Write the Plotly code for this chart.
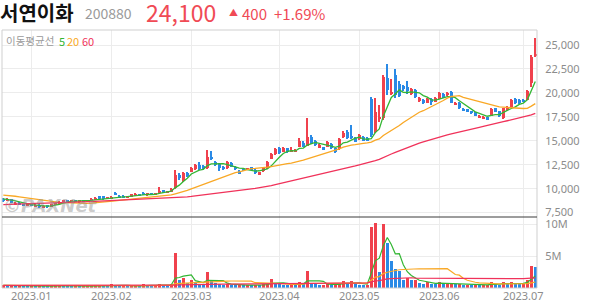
import pandas as pd
import plotly.graph_objects as go
from plotly.subplots import make_subplots

# ---------------- data ----------------
holidays = ["2022-12-30", "2023-01-23", "2023-01-24", "2023-03-01",
            "2023-05-01", "2023-05-05", "2023-05-29", "2023-06-06"]
dates = [d.strftime("%Y-%m-%d") for d in pd.bdate_range("2022-12-21", "2023-07-06")
         if d.strftime("%Y-%m-%d") not in holidays]

open_ = [8950, 8750, 8900, 8350, 8550, 8400, 8200, 8350, 8150, 8300,
         8000, 8200, 8100, 8300, 8450, 8600, 8800, 8650, 8800, 8650,
         8800, 8650, 8750, 8900, 9200, 9200, 8950, 9000, 9550, 9250,
         9250, 9050, 9150, 9250, 9400, 9450, 9300, 9550, 9350, 9650,
         9850, 9600, 9700, 10050, 11400, 10750, 11600, 11750, 12050, 12450,
         12400, 12150, 13350, 12750, 12550, 12300, 12150, 12650, 12300, 11850,
         12050, 11950, 12250, 11950, 11450, 11800, 12150, 13100, 13600, 14200,
         13850, 14200, 13850, 13900, 14400, 14800, 14500, 15350, 15000, 14250,
         14300, 14350, 14650, 14200, 14150, 15350, 15950, 15500, 15250, 15200,
         15350, 15250, 19400, 15900, 17300, 17400, 21600, 19900, 21900, 20900,
         20700, 20600, 19900, 20300, 19200, 19300, 18950, 19400, 19050, 19400,
         19850, 19750, 20050, 18750, 18950, 18350, 18300, 18100, 17950, 17450,
         17350, 17450, 17600, 18400, 18100, 17350, 18200, 18550, 19400, 19300,
         19300, 19300, 21000, 23800]
high = [9000, 9000, 8950, 8600, 8600, 8450, 8400, 8400, 8350, 8350,
        8250, 8250, 8400, 8550, 8700, 8850, 8850, 8800, 8850, 8800,
        8850, 8850, 9000, 9100, 9250, 9250, 9150, 9200, 9650, 9300,
        9300, 9250, 9450, 9500, 9450, 9700, 9600, 9600, 9600, 10200,
        9900, 9800, 10100, 11950, 11600, 11700, 11700, 12300, 12600, 12800,
        12500, 14050, 13950, 12850, 12650, 12400, 12900, 12750, 12400, 11950,
        12100, 12200, 12300, 12050, 11750, 12250, 12900, 13700, 14200, 14300,
        14300, 14250, 14300, 14150, 15300, 15000, 17350, 15600, 15100, 14650,
        14400, 15000, 14750, 14250, 15250, 16000, 16100, 16650, 15350, 15700,
        15450, 15350, 19600, 19500, 18700, 21900, 23000, 21500, 22500, 21200,
        20800, 21200, 20500, 20400, 19600, 19400, 19500, 19500, 19550, 20100,
        19950, 20100, 20150, 19050, 19000, 18400, 18350, 18150, 18000, 17650,
        17550, 17500, 18400, 18450, 18150, 18450, 18600, 19350, 19500, 19350,
        19400, 20300, 24000, 25700]
low = [8650, 8700, 8500, 8300, 8300, 8200, 8150, 8150, 8100, 8000,
       7950, 8050, 8050, 8250, 8400, 8550, 8600, 8600, 8650, 8600,
       8600, 8600, 8700, 8850, 8950, 8850, 8900, 8950, 9300, 9050,
       9000, 9000, 9100, 9200, 9200, 9300, 9250, 9300, 9300, 9600,
       9600, 9550, 9650, 10000, 10900, 10700, 11250, 11700, 11950, 12000,
       11950, 12100, 12950, 12400, 11850, 12000, 12100, 12250, 12000, 11500,
       11800, 11900, 11950, 11550, 11400, 11750, 12100, 13050, 13500, 13650,
       13800, 13750, 13800, 13850, 14350, 14350, 14450, 14700, 14500, 14200,
       14000, 14300, 14150, 13700, 14000, 15300, 15200, 15200, 14850, 15100,
       14950, 15000, 15400, 15800, 17000, 17200, 19800, 19800, 19500, 19600,
       20200, 19900, 19800, 19500, 19000, 18850, 18900, 18750, 19000, 19350,
       19500, 19700, 18900, 18700, 18350, 18100, 18050, 17800, 17550, 17400,
       17300, 17150, 17550, 18000, 17500, 17300, 18150, 18500, 18850, 18850,
       19000, 19250, 20600, 23700]
close = [8700, 8950, 8550, 8550, 8350, 8250, 8350, 8200, 8300, 8050,
         8200, 8100, 8350, 8500, 8650, 8800, 8650, 8750, 8700, 8750,
         8650, 8800, 8950, 9050, 9000, 8900, 9100, 9150, 9350, 9100,
         9050, 9200, 9400, 9450, 9250, 9350, 9550, 9350, 9550, 9800,
         9650, 9700, 10000, 11400, 11100, 11600, 11350, 12200, 12450, 12050,
         12050, 13300, 13050, 12450, 12200, 12050, 12800, 12300, 12050, 11550,
         11900, 12150, 12000, 11600, 11700, 12200, 12800, 13600, 14100, 13700,
         14200, 13850, 13950, 14000, 15000, 14400, 15400, 14800, 14550, 14550,
         14050, 14900, 14200, 13850, 15150, 15850, 15250, 15250, 14900, 15600,
         15000, 15050, 15600, 18000, 17500, 21700, 20300, 20100, 19800, 19700,
         20400, 20200, 20400, 19600, 19450, 18950, 19400, 19000, 19450, 20000,
         19600, 20000, 18950, 18950, 18400, 18150, 18100, 17850, 17600, 17600,
         17500, 17250, 18300, 18050, 17600, 18400, 18500, 19300, 18900, 18900,
         19100, 20200, 23700, 24100]
# volume in millions of shares
volume_m = [0.45, 0.35, 0.4, 0.3, 0.35, 0.3, 0.25, 0.3, 0.25, 0.35,
            0.3, 0.25, 0.35, 0.4, 0.45, 0.4, 0.3, 0.25, 0.3, 0.25,
            0.3, 0.3, 0.35, 0.4, 0.45, 0.35, 0.3, 0.7, 0.45, 0.3,
            0.3, 0.25, 0.4, 0.45, 0.3, 0.6, 0.4, 0.35, 0.4, 0.7,
            0.45, 0.4, 0.6, 5.6, 1.2, 1.6, 0.8, 1.2, 1.0, 0.7,
            0.6, 2.6, 1.3, 0.8, 0.6, 0.5, 0.6, 0.5, 0.4, 0.5,
            0.4, 0.45, 0.4, 0.5, 0.4, 0.6, 0.7, 1.4, 0.8, 0.6,
            0.5, 0.45, 0.6, 0.5, 0.9, 0.8, 2.75, 0.8, 0.7, 0.5,
            0.55, 0.6, 0.5, 0.55, 0.7, 1.1, 0.7, 1.1, 0.6, 0.5,
            0.45, 0.5, 9.7, 10.3, 2.6, 10.1, 7.1, 4.2, 3.0, 2.75,
            1.3, 1.6, 1.2, 1.2, 0.8, 0.7, 0.9, 0.7, 0.6, 0.9,
            0.6, 0.8, 0.8, 0.6, 0.65, 0.5, 0.55, 0.5, 0.6, 0.4,
            0.45, 0.5, 0.9, 0.6, 0.5, 1.0, 0.6, 1.0, 0.8, 0.6,
            0.7, 1.3, 3.5, 3.3]
# closes / volumes of the 59 sessions before the window (only feed the moving averages)
prior_close = [7500, 7450, 7550, 7600, 7550, 7500, 7600, 7650, 7700, 7650,
               7600, 7700, 7750, 7700, 7800, 7750, 7700, 7800, 7850, 7800,
               7750, 7850, 7900, 7850, 7800, 7900, 7950, 8000, 7950, 7900,
               8000, 8050, 8000, 8100, 8150, 8100, 8200, 8300, 8500, 8800,
               9300, 9450, 9600, 9550, 9500, 9650, 9700, 9600, 9500, 9450,
               9400, 9350, 9300, 9250, 9200, 9100, 9000, 8950, 8900]
prior_volume_m = [0.4, 0.5, 0.35, 0.45, 0.6, 0.4, 0.35, 0.5, 0.45, 0.4,
                  0.55, 0.4, 0.35, 0.45, 0.5, 0.4, 0.3, 0.45, 0.5, 0.4,
                  0.35, 0.45, 0.6, 0.5, 0.4, 0.35, 0.45, 0.4, 0.5, 0.45,
                  0.4, 0.35, 0.5, 0.45, 0.4, 0.55, 0.45, 0.4, 0.5, 0.45,
                  0.4, 0.35, 0.45, 0.5, 0.4, 0.35, 0.4, 0.45, 0.4, 0.35,
                  0.4, 0.45, 0.4, 0.35, 0.4, 0.45, 0.4, 0.35, 0.4]
ma_periods = [5, 20, 60]
price_ticks = [7500, 10000, 12500, 15000, 17500, 20000, 22500, 25000]
vol_ticks = [5, 10]
vol_tick_text = ["5M", "10M"]

# ---------------- styles ----------------
RED = "#f0414d"
BLUE = "#2a8ae6"
MA_COLORS = {5: "#33b633", 20: "#f9a825", 60: "#f0325a"}
GRID = "#ececec"
FONT_KR = "Noto Sans CJK KR"

n_prior = len(prior_close)
cs = pd.Series(prior_close + close)
vs = pd.Series(prior_volume_m + volume_m)
price_ma = {p: cs.rolling(p).mean().iloc[n_prior:].tolist() for p in ma_periods}
vol_ma = {p: vs.rolling(p).mean().iloc[n_prior:].tolist() for p in ma_periods}

candle_col = [RED if c >= o else BLUE for o, c in zip(open_, close)]
prev_vol = [prior_volume_m[-1]] + volume_m[:-1]
vol_col = [RED if v >= pv else BLUE for v, pv in zip(volume_m, prev_vol)]

# layout geometry (pixels)
W, H = 594, 304
L, R, T, B = 2, 57, 30, 16
plot_w, plot_h = W - L - R, H - T - B
vol_h = 71
split = vol_h / plot_h

fig = make_subplots(rows=2, cols=1, shared_xaxes=True, vertical_spacing=0,
                    row_heights=[1 - split, split])

# wicks
fig.add_trace(go.Bar(x=dates, y=[h - l for h, l in zip(high, low)], base=low, width=0.25,
                     marker=dict(color=candle_col, line=dict(width=0)), hoverinfo="skip"),
              row=1, col=1)
# bodies
fig.add_trace(go.Bar(x=dates, y=[max(abs(c - o), 60) for o, c in zip(open_, close)],
                     base=[min(o, c) for o, c in zip(open_, close)], width=0.75,
                     marker=dict(color=candle_col, line=dict(width=0)),
                     customdata=list(zip(open_, high, low, close)),
                     hovertemplate="O %{customdata[0]}<br>H %{customdata[1]}<br>L %{customdata[2]}<br>C %{customdata[3]}<extra></extra>"),
              row=1, col=1)
for p in ma_periods:
    fig.add_trace(go.Scatter(x=dates, y=price_ma[p], mode="lines",
                             line=dict(color=MA_COLORS[p], width=1.3), hoverinfo="skip"),
                  row=1, col=1)

fig.add_trace(go.Bar(x=dates, y=volume_m, width=0.7,
                     marker=dict(color=vol_col, line=dict(width=0))), row=2, col=1)
for p in ma_periods:
    fig.add_trace(go.Scatter(x=dates, y=vol_ma[p], mode="lines",
                             line=dict(color=MA_COLORS[p], width=1.2), hoverinfo="skip"),
                  row=2, col=1)

month_starts = []
seen = set()
for d in dates:
    m = d[:7]
    if m.startswith("2023") and m not in seen:
        seen.add(m)
        month_starts.append(d)
month_text = [d[:7].replace("-", ".") for d in month_starts]

xcommon = dict(type="category", range=[-0.325, len(dates) - 1 + 0.425],
               tickvals=month_starts, ticktext=month_text, showgrid=True,
               gridcolor=GRID, gridwidth=1, zeroline=False, showline=False,
               ticks="", fixedrange=True)
fig.update_xaxes(**xcommon)
fig.update_xaxes(showticklabels=False, row=1, col=1)
fig.update_xaxes(showticklabels=True, tickfont=dict(family="Noto Sans", size=11, color="#8c8c8c"),
                 row=2, col=1)

fig.update_yaxes(side="right", range=[7043, 26566], tickvals=price_ticks, tickformat=",d",
                 showgrid=True, gridcolor=GRID, zeroline=False, ticks="outside", ticklen=5,
                 tickcolor="rgba(0,0,0,0)",
                 tickfont=dict(family="Noto Sans", size=11, color="#8c8c8c"), row=1, col=1)
fig.update_yaxes(side="right", range=[0, 11.2], tickvals=vol_ticks, ticktext=vol_tick_text,
                 showgrid=True, gridcolor=GRID, zeroline=False, ticks="outside", ticklen=5,
                 tickcolor="rgba(0,0,0,0)",
                 tickfont=dict(family="Noto Sans", size=11, color="#8c8c8c"), row=2, col=1)


def px(x):
    return (x - L) / plot_w


def py(y):
    return (H - B - y) / plot_h


shapes = [
    dict(type="rect", xref="paper", yref="paper", x0=0, x1=1, y0=0, y1=1,
         line=dict(color="#cfcfcf", width=1)),
    dict(type="line", xref="paper", yref="paper", x0=0, x1=1, y0=split, y1=split,
         line=dict(color="#3a3a3a", width=1)),
]


def ann(text, x, y, size, color, anchor="left", family=FONT_KR):
    return dict(text=text, x=px(x), y=py(y), xref="paper", yref="paper", showarrow=False,
                xanchor=anchor, yanchor="middle", borderpad=0,
                font=dict(family=family, size=size, color=color))


annotations = [
    ann("<b>서연이화</b>", -1, 12, 20, "#111111"),
    ann("200880", 84, 13, 14, "#9a9a9a"),
    ann("24,100", 145, 12, 23, "#f04a55"),
    ann("▲", 228, 12, 9, "#f04a55"),
    ann("400", 241, 13, 15, "#f04a55"),
    ann("+1.69%", 273, 13, 15, "#f04a55"),
    ann("이동평균선", 5, 41, 10.5, "#9a9a9a"),
    ann("5", 58, 41, 11, MA_COLORS[5]),
    ann("20", 66, 41, 11, MA_COLORS[20]),
    ann("60", 81, 41, 11, MA_COLORS[60]),
    ann("<b><i>©PAXNet</i></b>", 2, 205, 18, "rgba(140,140,140,0.45)", family="DejaVu Sans"),
]

fig.update_layout(width=W, height=H, margin=dict(l=L, r=R, t=T, b=B),
                  paper_bgcolor="white", plot_bgcolor="white", showlegend=False,
                  barmode="overlay", bargap=0, shapes=shapes, annotations=annotations)

fig.write_html("out.html")
